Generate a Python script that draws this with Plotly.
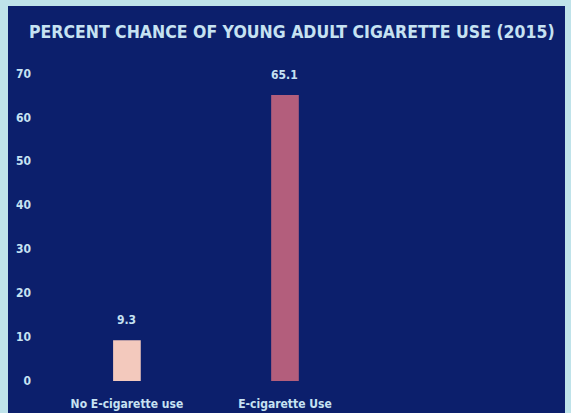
import plotly.graph_objects as go

categories = ["No E-cigarette use", "E-cigarette Use"]
values = [9.3, 65.1]
bar_colors = ["#f3c9bd", "#b35e7c"]
title_text = "PERCENT CHANCE OF YOUNG ADULT CIGARETTE USE (2015)"
y_ticks = [0, 10, 20, 30, 40, 50, 60, 70]

W, H = 571, 413
L, R, T, B = 40, 11, 69, 32
NAVY = "#0c1f6c"
LIGHT = "#bfe3ea"
TXT = "#c6e2f2"
FONT = "DejaVu Sans Condensed, Liberation Sans Narrow, sans-serif"

pw = W - L - R
ph = H - T - B

fig = go.Figure()
fig.add_trace(go.Bar(
    x=[0, 1], y=values, marker=dict(color=bar_colors, line=dict(width=0)),
    width=0.175, hoverinfo="skip"))

for i, v in enumerate(values):
    fig.add_annotation(x=i, y=v, text=f"<b>{v}</b>", showarrow=False,
                       yanchor="bottom", yshift=11,
                       font=dict(family=FONT, size=12, color=TXT))

fig.add_shape(type="rect", xref="paper", yref="paper", layer="below",
              x0=(8 - L) / pw, x1=(565 - L) / pw,
              y0=-(B + 20) / ph, y1=(H - B - 6) / ph,
              fillcolor=NAVY, line=dict(width=0))

fig.update_layout(
    width=W, height=H,
    margin=dict(l=L, r=R, t=T, b=B, autoexpand=False),
    paper_bgcolor=LIGHT, plot_bgcolor="rgba(0,0,0,0)",
    showlegend=False,
    title=dict(text=f"<b>{title_text}</b>", x=29 / W, xanchor="left",
               y=1 - 32 / H, yanchor="middle",
               font=dict(family=FONT, size=17.5, color=TXT)),
    xaxis=dict(range=[-0.55, 2.74], tickmode="array", tickvals=[0, 1],
               ticktext=[f"<b>{c}</b>" for c in categories],
               showgrid=False, zeroline=False, showline=False, ticks="",
               ticklabelstandoff=14, automargin=False,
               tickfont=dict(family=FONT, size=12, color=TXT)),
    yaxis=dict(range=[0, 71], tickmode="array", tickvals=y_ticks,
               ticktext=[f"<b>{t}</b>" for t in y_ticks],
               showgrid=False, zeroline=False, showline=False, ticks="",
               ticklabelstandoff=8, automargin=False,
               tickfont=dict(family=FONT, size=12, color=TXT)),
)

fig.write_html("out.html")
